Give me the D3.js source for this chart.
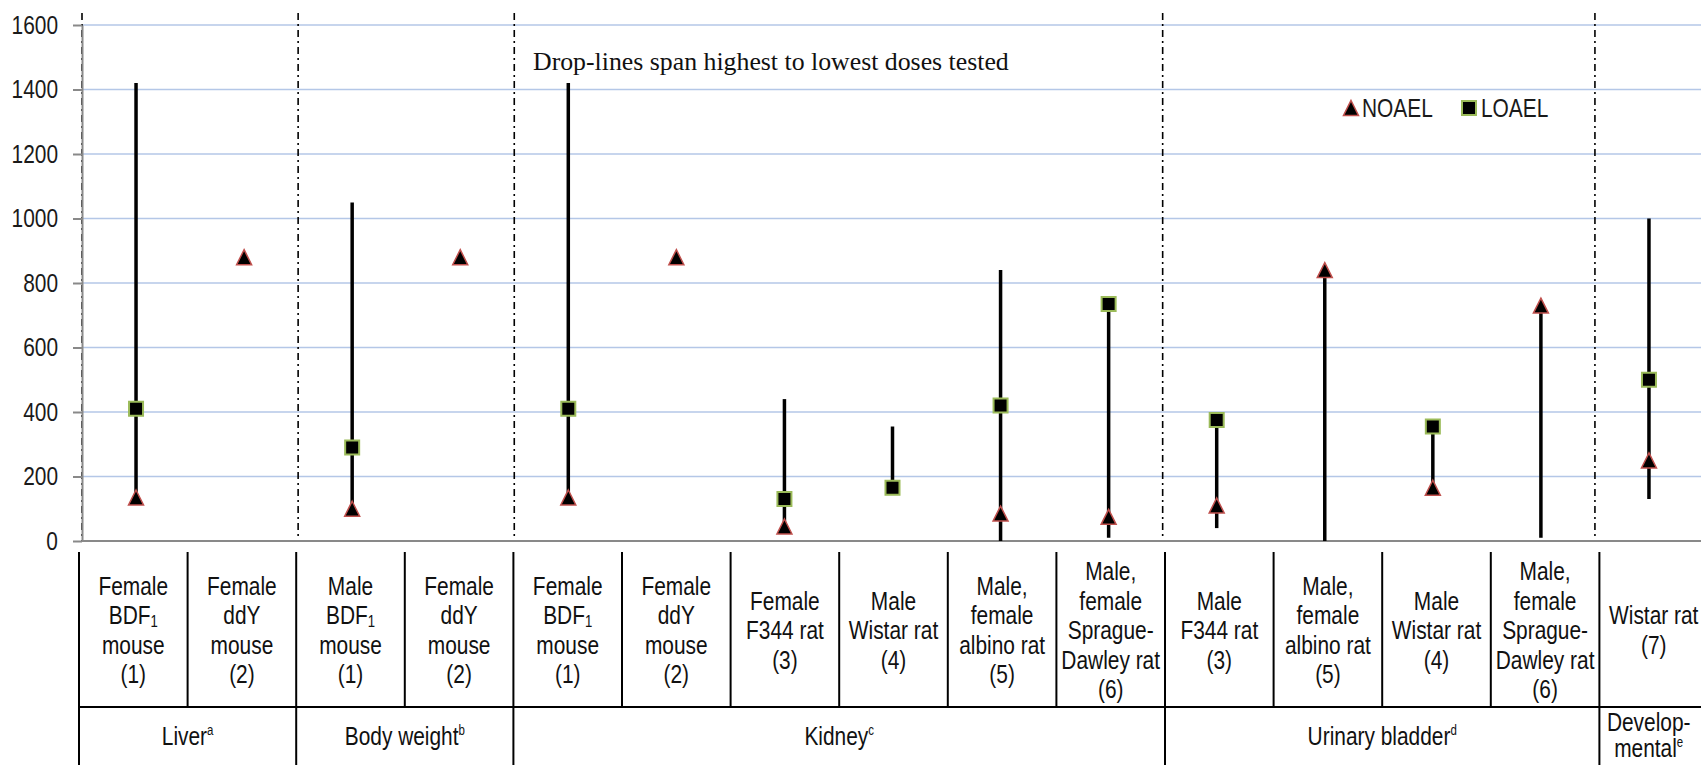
<!DOCTYPE html>
<html>
<head>
<meta charset="utf-8">
<script src="https://cdn.jsdelivr.net/npm/d3@7"></script>
<style>
  body { margin: 0; background: #fff; }
  svg { display: block; }
</style>
</head>
<body>
<svg id="chart" width="1701" height="765"></svg>
<script>
// column headings of the table under the chart, one array of lines per column
var categories = [
        ['Female', 'BDF₁', 'mouse', '(1)'],
        ['Female', 'ddY', 'mouse', '(2)'],
        ['Male', 'BDF₁', 'mouse', '(1)'],
        ['Female', 'ddY', 'mouse', '(2)'],
        ['Female', 'BDF₁', 'mouse', '(1)'],
        ['Female', 'ddY', 'mouse', '(2)'],
        ['Female', 'F344 rat', '(3)'],
        ['Male', 'Wistar rat', '(4)'],
        ['Male,', 'female', 'albino rat', '(5)'],
        ['Male,', 'female', 'Sprague-', 'Dawley rat', '(6)'],
        ['Male', 'F344 rat', '(3)'],
        ['Male,', 'female', 'albino rat', '(5)'],
        ['Male', 'Wistar rat', '(4)'],
        ['Male,', 'female', 'Sprague-', 'Dawley rat', '(6)'],
        ['Wistar rat', '(7)']
]
var groupNames = [['Liver'], ['Body weight'], ['Kidney'], ['Urinary bladder'], ['Develop-', 'mental']]
var groupNotes = ['a', 'b', 'c', 'd', 'e']
var groupSizes = [2, 2, 6, 4, 1]

// doses, mg/kg-day (null = not identified)
var noael = [135, 880, 100, 880, 135, 880, 45, null, 85, 75, 110, 840, 165, 730, 250]
var loael = [410, null, 290, null, 410, null, 130, 165, 420, 735, 375, null, 355, null, 500]
var doseHigh = [1420, 880, 1050, 880, 1420, 880, 440, 355, 840, 735, 375, 840, 355, 730, 1000]
var doseLow = [135, 880, 100, 880, 135, 880, 45, 165, 0, 10, 40, 0, 165, 10, 130]

var yTicks = [0, 200, 400, 600, 800, 1000, 1200, 1400, 1600]
var seriesNames = ['NOAEL', 'LOAEL']
var note = 'Drop-lines span highest to lowest doses tested'

var W = 1701, H = 765
var svg = d3.select('#chart')

var SANS = '"Liberation Sans Narrow", "Arial Narrow", sans-serif'
var FS = 25.5

// no narrow face installed? squeeze the regular one instead
var ctx = document.createElement('canvas').getContext('2d')
ctx.font = '20px "Liberation Sans Narrow"'
var wNarrow = ctx.measureText('Female albino rat').width
ctx.font = '20px "Liberation Sans"'
var wRegular = ctx.measureText('Female albino rat').width
var squeeze = wNarrow < wRegular * 0.9 ? 1 : 0.82
if (squeeze < 1) SANS = '"Liberation Sans", Arial, sans-serif'

function narrow(sel) {
        if (squeeze === 1) return
        sel.each(function () {
                var t = d3.select(this)
                var tx = +t.attr('x') || 0, ty = +t.attr('y') || 0
                t.attr('x', 0).attr('y', 0)
                        .attr('transform', 'translate(' + tx + ',' + ty + ') scale(' + squeeze + ',1)')
        })
}

var x = d3.scaleBand().domain(d3.range(categories.length)).range([82, 1703])
var tableX = d3.scaleBand().domain(d3.range(categories.length)).range([79, 1708])
var y = d3.scaleLinear().domain([0, 1600]).range([541, 25])

// gridlines
svg.append('g').selectAll('line')
        .data(yTicks.filter(function (d) { return d > 0 }))
        .enter().append('line')
        .attr('x1', x.range()[0]).attr('x2', W)
        .attr('y1', function (d) { return y(d) }).attr('y2', function (d) { return y(d) })
        .attr('stroke', '#b4c7e7').attr('stroke-width', 1.5)

// group dividers
var groupStarts = groupSizes.map(function (s, i) { return d3.sum(groupSizes.slice(0, i)) })
svg.append('g').selectAll('line')
        .data(groupStarts)
        .enter().append('line')
        .attr('x1', function (d) { return x(d) }).attr('x2', function (d) { return x(d) })
        .attr('y1', 13).attr('y2', y(0))
        .attr('stroke', '#000').attr('stroke-width', 1.6)
        .attr('stroke-dasharray', '7,4,2,4')

// axes
var yAxis = svg.append('g')
        .attr('transform', 'translate(' + x.range()[0] + ',0)')
        .call(d3.axisLeft(y).tickValues(yTicks).tickFormat(d3.format('d'))
                .tickSize(9).tickSizeOuter(0).tickPadding(15))
yAxis.select('.domain').attr('stroke', '#898989').attr('stroke-width', 2)
yAxis.selectAll('.tick line').attr('stroke', '#898989').attr('stroke-width', 2)
yAxis.selectAll('.tick text')
        .attr('font-family', SANS).attr('font-size', 25.5).attr('fill', '#1a1a1a')
        .call(narrow)

svg.append('line')
        .attr('x1', x.range()[0]).attr('x2', W)
        .attr('y1', y(0)).attr('y2', y(0))
        .attr('stroke', '#898989').attr('stroke-width', 2)

// drop-lines
var idx = d3.range(categories.length)
svg.append('g').selectAll('line')
        .data(idx.filter(function (i) { return doseHigh[i] !== doseLow[i] }))
        .enter().append('line')
        .attr('x1', function (i) { return x(i) + x.bandwidth() / 2 })
        .attr('x2', function (i) { return x(i) + x.bandwidth() / 2 })
        .attr('y1', function (i) { return y(doseHigh[i]) })
        .attr('y2', function (i) { return y(doseLow[i]) })
        .attr('stroke', '#000').attr('stroke-width', 3.5)

// markers
var triangleMark = {
        draw: function (c, size) {
                var h = Math.sqrt(size) / 2
                c.moveTo(0, -h); c.lineTo(h, h); c.lineTo(-h, h); c.closePath()
        }
}
var tri = d3.symbol().type(triangleMark).size(225)
var sq = d3.symbol().type(d3.symbolSquare).size(196)

svg.append('g').selectAll('path')
        .data(idx.filter(function (i) { return noael[i] != null }))
        .enter().append('path')
        .attr('d', tri)
        .attr('transform', function (i) { return 'translate(' + (x(i) + x.bandwidth() / 2) + ',' + y(noael[i]) + ')' })
        .attr('fill', '#000').attr('stroke', '#c0504d').attr('stroke-width', 1.5)

svg.append('g').selectAll('path')
        .data(idx.filter(function (i) { return loael[i] != null }))
        .enter().append('path')
        .attr('d', sq)
        .attr('transform', function (i) { return 'translate(' + (x(i) + x.bandwidth() / 2) + ',' + y(loael[i]) + ')' })
        .attr('fill', '#000').attr('stroke', '#9bbb59').attr('stroke-width', 2)

// legend
var legend = svg.append('g').attr('transform', 'translate(1351,108)')
legend.append('path').attr('d', tri)
        .attr('fill', '#000').attr('stroke', '#c0504d').attr('stroke-width', 1.5)
legend.append('path').attr('d', sq).attr('transform', 'translate(118,0)')
        .attr('fill', '#000').attr('stroke', '#9bbb59').attr('stroke-width', 2)
legend.selectAll('text')
        .data(seriesNames)
        .enter().append('text')
        .attr('x', function (d, i) { return i ? 130 : 11 })
        .attr('y', 0).attr('dy', '0.36em')
        .attr('font-family', SANS).attr('font-size', FS).attr('fill', '#1a1a1a')
        .text(function (d) { return d })
        .call(narrow)

// note
svg.append('text')
        .attr('x', 533).attr('y', 70)
        .attr('font-family', '"Liberation Serif", "Times New Roman", serif')
        .attr('font-size', 25.8).attr('fill', '#111')
        .text(note)

// table under the chart
var table = svg.append('g')
var rowTop = 552, rowMid = 707
table.selectAll('line.col')
        .data(d3.range(categories.length + 1))
        .enter().append('line')
        .attr('class', 'col')
        .attr('x1', function (i) { return i < categories.length ? tableX(i) : tableX.range()[1] })
        .attr('x2', function (i) { return i < categories.length ? tableX(i) : tableX.range()[1] })
        .attr('y1', rowTop)
        .attr('y2', function (i) { return groupStarts.indexOf(i) >= 0 ? H : rowMid })
        .attr('stroke', '#000').attr('stroke-width', 2)
table.append('line')
        .attr('x1', tableX.range()[0]).attr('x2', W)
        .attr('y1', rowMid).attr('y2', rowMid)
        .attr('stroke', '#000').attr('stroke-width', 2)

function writeLines(g, lines, cx, cy, lh, sup) {
        lines.forEach(function (line, k) {
                var t = g.append('text')
                        .attr('x', cx)
                        .attr('y', cy + (k - (lines.length - 1) / 2) * lh)
                        .attr('dy', '0.36em')
                        .attr('text-anchor', 'middle')
                        .attr('font-family', SANS).attr('font-size', FS).attr('fill', '#111')
                var parts = line.split('₁')
                t.append('tspan').text(parts[0])
                if (parts.length > 1)
                        t.append('tspan').attr('font-size', 16).attr('dy', 3).text('1')
                if (sup && k === lines.length - 1)
                        t.append('tspan').attr('font-size', 14).attr('dy', -10).text(sup)
                narrow(t)
        })
}

categories.forEach(function (lines, i) {
        writeLines(table, lines, tableX(i) + tableX.bandwidth() / 2, 630, 29.5)
})

groupNames.forEach(function (lines, j) {
        var a = groupStarts[j], b = a + groupSizes[j]
        var cx = (tableX(a) + (b < categories.length ? tableX(b) : tableX.range()[1])) / 2
        writeLines(table, lines, cx - (b < categories.length ? 0 : 5), lines.length > 1 ? 735 : 736, 26, groupNotes[j])
})
</script>
</body>
</html>
